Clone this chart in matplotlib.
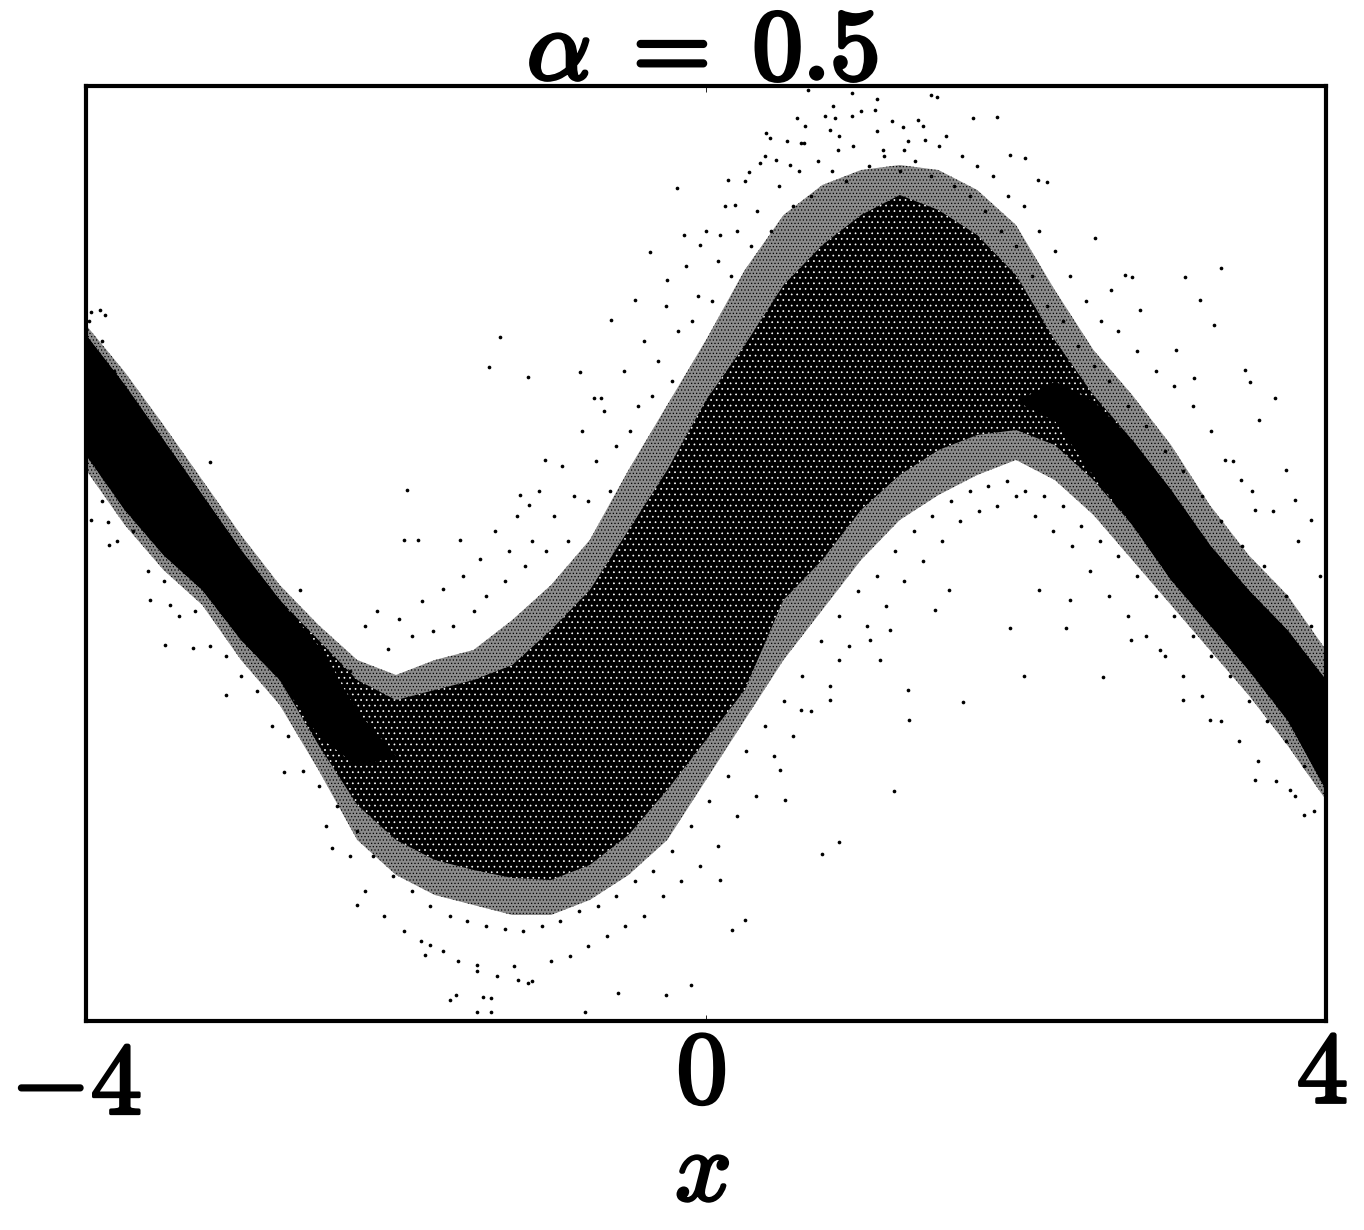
import numpy as np
import matplotlib
matplotlib.use("Agg")
import matplotlib.pyplot as plt
import matplotlib.patheffects as pe
from matplotlib.transforms import ScaledTranslation

plt.rcParams['mathtext.fontset'] = 'cm'
plt.rcParams['hatch.linewidth'] = 0.5

# x positions of the envelopes
band_x = np.array([-4, -3.75, -3.5, -3.25, -3, -2.75, -2.5, -2.25, -2, -1.75, -1.5, -1.25, -1, -.75, -.5, -.25,
          0, .25, .5, .75, 1, 1.25, 1.5, 1.75, 2, 2.25, 2.5, 2.75, 3, 3.25, 3.5, 3.75, 4])
# height of the cloud (arbitrary y scale: the axis carries no labels)
mid_top = [696,649,596,541,486,436,396,361,346,361,371,401,436,481,551,616,681,751,806,836,851,856,851,831,796,731,671,626,576,516,466,426,371]
mid_bot = [551,496,451,416,361,316,251,181,146,126,116,106,106,121,146,181,241,301,361,411,461,501,526,546,561,541,506,461,416,371,326,276,221]
dense_top = [686,636,581,526,471,421,381,341,321,331,341,356,391,431,491,551,621,676,736,776,806,826,811,786,746,681,626,581,531,476,431,391,341]
dense_bot = [566,511,466,431,381,341,276,216,181,161,151,143,141,156,186,231,281,331,421,461,511,546,571,586,591,576,541,496,441,396,351,301,231]

# solid parts of the band, on the narrow left and right stretches
left_x = [-4, -3.75, -3.5, -3.25, -3, -2.75, -2.5, -2.25, -2]
left_top = [686,636,581,526,471,421,375,310,265]
left_bot = [566,511,466,431,381,341,285,255,265]
right_x = [2, 2.25, 2.5, 2.75, 3, 3.25, 3.5, 3.75, 4]
right_top = [620,640,620,581,531,476,431,391,341]
right_bot = [620,600,545,496,441,396,351,301,231]

# individually visible stray points
stray_x = [.66,.94,1.10,1.45,1.49,.82,.94,1.09,.59,.83,1.27,1.37,1.72,1.88,.39,.41,.61,.63,.80,.85,1.14,1.28,1.41,1.96,2.06,2.20,2.14,
           -.19,.14,.28,.35,.45,.54,.19,.09,-.04,-.14,-.36,-.25,-.46,-.61,-1.33,-1.40,-1.15,-.81,-.72,-.68,-1.04,-1.93,-1.95,-1.86,-1.59,-1.2,-1.14,
           2.51,2.70,2.75,3.09,3.32,3.19,3.28,3.48,3.51,3.67,3.15,3.03,2.80,2.61,3.57,3.74,3.80,3.90,3.54,3.45,3.35,
           2.05,2.56,1.66,1.31,1.21,.86,.75,1.30,1.19,1.06,1.12,1.96,2.32,2.74,2.93,3.08,3.25,3.54,3.86,3.77,2.15,2.35,1.57,1.48,.86,.80,.61,.48,.51,.25,.17,.09,
           -.10,-.26,-.57,-.78,-1.15,-1.21,-1.44,-1.39,-1.48,-1.39,-1.61,-1.65,-1.48,-1.78,-1.81,-2.25,-2.41,-2.72,-3.10,-3.31,-3.49,-3.59,-3.46,-3.85,-3.97,-3.86,-3.91,-3.88,-3.97,-3.2,-2.62]
stray_y = [931,928,922,926,924,915,905,911,903,903,894,901,903,904,888,883,878,878,891,871,871,871,881,866,863,839,841,
           833,841,849,858,861,856,816,786,776,786,769,741,721,701,684,654,644,649,623,623,561,531,481,481,481,526,516,
           783,746,744,744,753,721,696,651,639,623,643,671,711,731,601,551,521,501,511,541,561,
           345,344,319,301,230,179,167,331,391,381,361,393,393,381,371,321,301,241,206,231,431,421,431,411,361,321,311,251,221,101,91,141,
           36,26,28,9,38,41,24,23,9,9,26,21,56,76,66,116,173,249,326,373,376,421,416,476,501,499,711,706,709,559,431]

# points estimated along the upper fringe of the cloud
upper_x = [-3.98,-3.9,-3.82,-3.74,-3.66,-3.58,-3.5,-3.42,-3.34,-3.26,-3.18,-3.1,-3.02,-2.94,-2.86,-2.78,-2.7,-2.62,-2.54,-2.46,-2.38,-2.3,
           -2.2,-2.12,-2.05,-1.98,-1.9,-1.83,-1.76,-1.7,-1.63,-1.57,-1.5,-1.46,-1.42,-1.36,-1.3,-1.27,-1.22,-1.17,-1.12,-1.08,-1.03,-.98,-.93,-.89,-.85,-.8,-.76,-.71,-.66,-.62,-.58,-.53,-.49,-.44,-.4,-.35,-.31,-.26,-.22,-.18,-.13,-.09,-.05,0,.04,.08,.12,.16,.2,.25,.29,.33,.38,.42,.47,.52,.56,.6,.64,.68,.72,.77,.81,.86,.9,.95,1,1.05,1.1,1.15,1.2,1.25,1.3,1.35,1.4,1.45,1.5,1.55,1.6,1.65,1.7,1.75,1.8,1.85,1.9,1.95,2,2.05,2.1,2.15,2.2,2.25,2.3,2.35,2.4,2.45,2.5,2.55,2.6,2.66,2.72,2.78,2.84,2.9,2.96,3.02,3.08,3.14,3.2,3.26,3.32,3.4,3.46,3.52,3.6,3.66,3.74,3.82,3.9,3.96]
upper_y = [700,680,650,625,610,575,570,530,520,490,470,445,430,415,395,375,375,345,350,325,350,350,
           395,410,372,402,385,420,390,432,395,445,410,462,425,490,440,470,505,455,480,530,470,505,555,480,525,590,520,560,610,530,575,650,590,615,680,625,660,715,640,690,755,700,725,790,720,760,815,745,790,840,775,810,865,790,835,880,815,850,895,825,860,905,850,885,840,875,910,855,890,865,900,850,880,860,895,845,875,885,835,865,825,855,810,845,790,825,775,815,745,790,715,770,700,745,675,720,655,700,640,690,615,670,595,650,570,635,550,615,525,590,500,560,475,530,455,510,425,480,395,445]

# points estimated along the lower fringe of the cloud
lower_x = [-3.9,-3.8,-3.7,-3.6,-3.5,-3.4,-3.3,-3.2,-3.1,-3,-2.9,-2.8,-2.7,-2.6,-2.5,-2.45,-2.38,-2.3,-2.25,-2.2,-2.15,-2.08,-2.02,-1.95,-1.9,-1.84,-1.78,-1.7,-1.65,-1.6,-1.54,-1.48,-1.42,-1.35,-1.3,-1.24,-1.18,-1.12,-1.06,-1,-.94,-.88,-.82,-.76,-.7,-.64,-.58,-.52,-.46,-.4,-.34,-.28,-.22,-.16,-.1,-.04,.02,.08,.14,.2,.26,.32,.38,.44,.5,.56,.62,.68,.74,.8,.86,.92,.98,1.04,1.1,1.16,1.22,1.28,1.34,1.4,1.46,1.52,1.58,1.64,1.7,1.76,1.82,1.88,1.94,2,2.06,2.12,2.18,2.24,2.3,2.36,2.42,2.48,2.54,2.6,2.66,2.72,2.78,2.84,2.9,2.96,3.02,3.08,3.14,3.2,3.26,3.32,3.38,3.44,3.5,3.56,3.62,3.68,3.74,3.8,3.86,3.92,3.98]
lower_y = [520,480,490,450,440,405,410,375,365,345,330,295,285,250,235,195,215,165,190,130,165,105,145,90,130,80,115,70,105,60,100,50,95,45,92,55,90,40,95,60,100,65,110,75,115,85,125,95,140,105,150,125,170,140,195,155,220,175,245,205,270,225,295,265,320,285,345,310,380,335,405,375,430,395,445,415,470,440,490,460,505,480,520,500,530,510,535,515,540,525,530,505,525,490,515,475,495,450,480,425,465,405,445,385,425,365,405,345,385,325,365,300,345,280,320,260,300,240,280,225,255,210,240]

tick_values = [-4, 0, 4]
tick_labels = [r'$\mathbf{-4}$', r'$\mathbf{0}$', r'$\mathbf{4}$']

fig = plt.figure(figsize=(13.64, 12.30), dpi=100)
ax = fig.add_axes([86/1364, 1-1021/1230, 1240/1364, 935/1230])

# stippled fringe around the cloud
ax.fill_between(band_x, mid_bot, mid_top, facecolor=(0, 0, 0, 0.45), edgecolor='k', hatch='.....', lw=0)
# dense band with sparse white speckle, solid where the band is narrow
ax.fill_between(band_x, dense_bot, dense_top, facecolor='k', edgecolor='white', hatch='...', lw=0)
ax.fill_between(left_x, left_bot, left_top, color='k', lw=0)
ax.fill_between(right_x, right_bot, right_top, color='k', lw=0)
ax.scatter(stray_x, stray_y, s=7, c='k', linewidths=0)
ax.scatter(upper_x, upper_y, s=7, c='k', linewidths=0)
ax.scatter(lower_x, lower_y, s=7, c='k', linewidths=0)

ax.set_xlim(-4, 4)
ax.set_ylim(0, 935)
ax.set_xticks(tick_values, tick_labels)
ax.set_yticks([])
ax.tick_params(axis='x', direction='in', top=True, bottom=True, length=4, width=0.6, labelsize=74, pad=2)
for s in ax.spines.values():
    s.set_linewidth(3)

stroke = [pe.withStroke(linewidth=2.2, foreground='k')]
offsets = [-10, -5, -4]
for lab, dx in zip(ax.get_xticklabels(), offsets):
    lab.set_path_effects(stroke)
    lab.set_transform(lab.get_transform() + ScaledTranslation(dx / 100, 0, fig.dpi_scale_trans))
ax.get_xticklabels()[0].set_y(-0.012)

ax.set_title(r'$\alpha\;=\;\mathbf{0.5}$', fontsize=72, pad=5, x=0.497, path_effects=[pe.withStroke(linewidth=3, foreground='k')])
ax.set_xlabel(r'$x$', fontsize=72, labelpad=-8, x=0.497, path_effects=stroke)

fig.savefig('out.png', dpi=100)
